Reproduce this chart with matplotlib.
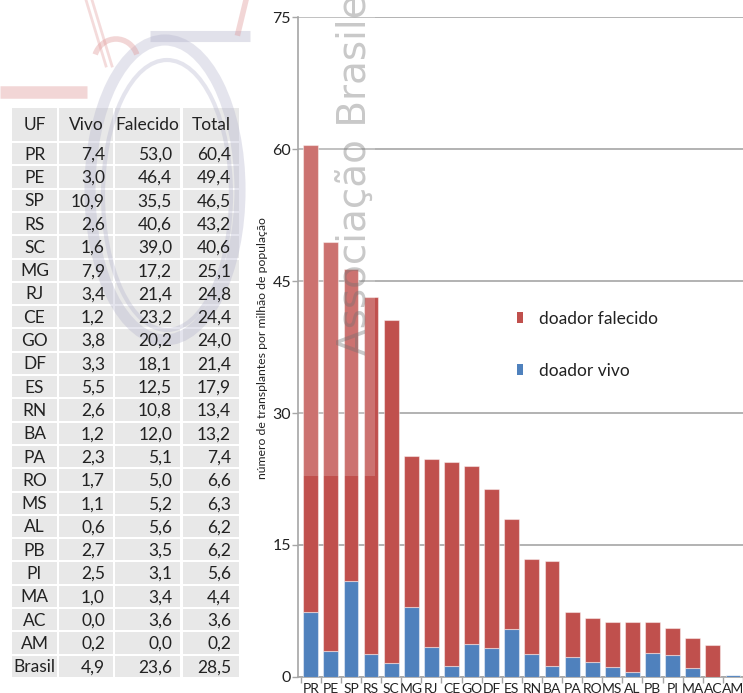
import matplotlib
matplotlib.use("Agg")
import matplotlib.pyplot as plt
from matplotlib.patches import Rectangle, Ellipse, Arc

# ---------------- data ----------------
ufs = ['PR', 'PE', 'SP', 'RS', 'SC', 'MG', 'RJ', 'CE', 'GO', 'DF', 'ES',
       'RN', 'BA', 'PA', 'RO', 'MS', 'AL', 'PB', 'PI', 'MA', 'AC', 'AM']
vivo = [7.4, 3.0, 10.9, 2.6, 1.6, 7.9, 3.4, 1.2, 3.8, 3.3, 5.5,
        2.6, 1.2, 2.3, 1.7, 1.1, 0.6, 2.7, 2.5, 1.0, 0.0, 0.2]
falecido = [53.0, 46.4, 35.5, 40.6, 39.0, 17.2, 21.4, 23.2, 20.2, 18.1, 12.5,
            10.8, 12.0, 5.1, 5.0, 5.2, 5.6, 3.5, 3.1, 3.4, 3.6, 0.0]
total = [60.4, 49.4, 46.5, 43.2, 40.6, 25.1, 24.8, 24.4, 24.0, 21.4, 17.9,
         13.4, 13.2, 7.4, 6.6, 6.3, 6.2, 6.2, 5.6, 4.4, 3.6, 0.2]
brasil = ['Brasil', 4.9, 23.6, 28.5]
table_header = ['UF', 'Vivo', 'Falecido', 'Total']
yticks = [0, 15, 30, 45, 60, 75]
ylabel = 'número de transplantes por milhão de população'
legend_labels = ['doador falecido', 'doador vivo']

RED = '#C0504D'
BLUE = '#4F81BD'
FONT = ['Lato', 'DejaVu Sans']

W, H = 743, 693
fig = plt.figure(figsize=(W / 100, H / 100), dpi=100)
plt.rcParams['font.family'] = FONT

# ---------------- background / table axes (pixel coords) ----------------
bg = fig.add_axes([0, 0, 1, 1], zorder=0)
bg.set_xlim(0, W)
bg.set_ylim(H, 0)
bg.axis('off')

# faint logo watermark
GREY_WM = '#B4B4CC'
RED_WM = '#E09A9A'
bg.add_patch(Ellipse((165, 190), 150, 300, fill=False, lw=8,
                     edgecolor=GREY_WM, alpha=0.35, zorder=2))
bg.add_patch(Ellipse((167, 195), 128, 270, fill=False, lw=3,
                     edgecolor=GREY_WM, alpha=0.35, zorder=2))
bg.plot([150, 250], [36, 36], lw=8, color=GREY_WM, alpha=0.4,
        solid_capstyle='butt', zorder=2)
bg.plot([0, 87], [92, 92], lw=9, color=RED_WM, alpha=0.4,
        solid_capstyle='butt', zorder=2)
bg.plot([86, 106], [0, 66], lw=2, color=RED_WM, alpha=0.35, zorder=2)
bg.plot([92, 112], [0, 66], lw=2, color=RED_WM, alpha=0.35, zorder=2)
bg.plot([246, 238], [0, 33], lw=4, color=RED_WM, alpha=0.4, zorder=2)
bg.add_patch(Arc((116, 62), 44, 46, theta1=200, theta2=340, lw=4,
                 color=RED_WM, alpha=0.4, zorder=2))

# table
col_edges = [(12, 57), (59, 113), (115, 180), (183, 239)]
header_top, header_bot = 108, 141
row0, row_h = 143, 23.3
cell_col = '#E8E8E8'
txt_col = '#222222'
tfs = 12.5

for (x0, x1), lab in zip(col_edges, table_header):
    bg.add_patch(Rectangle((x0, header_top), x1 - x0, header_bot - header_top,
                           facecolor=cell_col, edgecolor='none', zorder=1))
    bg.text((x0 + x1) / 2, (header_top + header_bot) / 2 + 1, lab,
            ha='center', va='center', fontsize=tfs, color=txt_col, zorder=3)

rows = [[u, v, f, t] for u, v, f, t in zip(ufs, vivo, falecido, total)]
rows.append(brasil)


def fmt(v):
    return f"{v:.1f}".replace('.', ',')


for i, row in enumerate(rows):
    top = row0 + i * row_h
    cy = top + (row_h - 2) / 2 + 1
    for j, ((x0, x1), val) in enumerate(zip(col_edges, row)):
        bg.add_patch(Rectangle((x0, top), x1 - x0, row_h - 2,
                               facecolor=cell_col, edgecolor='none', zorder=1))
        if j == 0:
            bg.text((x0 + x1) / 2, cy, val, ha='center', va='center',
                    fontsize=tfs, color=txt_col, zorder=3)
        else:
            bg.text(x1 - 8, cy, fmt(val), ha='right', va='center',
                    fontsize=tfs, color=txt_col, zorder=3)

# ---------------- bar chart ----------------
ax_l, ax_r, ax_b, ax_t = 298, 743, 677, 17
ax = fig.add_axes([ax_l / W, (H - ax_b) / H, (ax_r - ax_l) / W, (ax_b - ax_t) / H],
                  zorder=2)
ax.patch.set_alpha(0)
x = list(range(len(ufs)))
bw = 0.74
b1 = ax.bar(x, vivo, width=bw, color=BLUE, edgecolor=(1, 1, 1, 0.45),
            linewidth=0.8, zorder=3, label=legend_labels[1])
b2 = ax.bar(x, falecido, width=bw, bottom=vivo, color=RED,
            edgecolor=(1, 1, 1, 0.45), linewidth=0.8, zorder=3,
            label=legend_labels[0])

ax.set_xlim(-0.634, 21.41)
ax.set_ylim(0, 75)
ax.set_yticks(yticks)
ax.set_yticklabels([str(t) for t in yticks], fontsize=11.5, color='#222222')
ax.yaxis.grid(True, color='#A6A6A6', linewidth=1.2, zorder=0)
ax.set_axisbelow(True)
ax.set_xticks(x)
ax.set_xticklabels(ufs, fontsize=10, color='#222222')
ax.set_xticks([i + 0.5 for i in range(-1, len(ufs))], minor=True)
ax.tick_params(axis='x', which='major', length=0, pad=4)
ax.tick_params(axis='x', which='minor', length=4, color='#A6A6A6', width=1)
ax.tick_params(axis='y', length=4, color='#A6A6A6', width=1, pad=1)
for s in ['top', 'right']:
    ax.spines[s].set_visible(False)
for s in ['left', 'bottom']:
    ax.spines[s].set_color('#A6A6A6')
    ax.spines[s].set_linewidth(1.2)

fig.text(262 / W, 1 - 348 / H, ylabel, rotation=90, ha='center', va='center',
         fontsize=8.8, color='#222222')

leg = ax.legend(handles=[b2, b1], labels=legend_labels,
                loc='upper left', bbox_to_anchor=(517 / W, 1 - 311 / H),
                bbox_transform=fig.transFigure, frameon=False,
                fontsize=12.5, handlelength=0.35, handleheight=0.6,
                handletextpad=0.9, labelspacing=2.07, borderpad=0,
                borderaxespad=0)
for t in leg.get_texts():
    t.set_color('#222222')
for h in leg.legend_handles:
    h.set_edgecolor('none')

# ---------------- overlay watermark ----------------
ov = fig.add_axes([0, 0, 1, 1], zorder=5)
ov.set_xlim(0, W)
ov.set_ylim(H, 0)
ov.axis('off')
ov.add_patch(Rectangle((299, 0), 76, 476, facecolor='white', alpha=0.2,
                       edgecolor='none'))
ov.text(367, 355, 'Associação Brasileira', rotation=90, rotation_mode='anchor',
        ha='left', va='baseline', fontsize=28, family='DejaVu Sans',
        color='#707070', alpha=0.38)

fig.savefig('out.png', dpi=100)
